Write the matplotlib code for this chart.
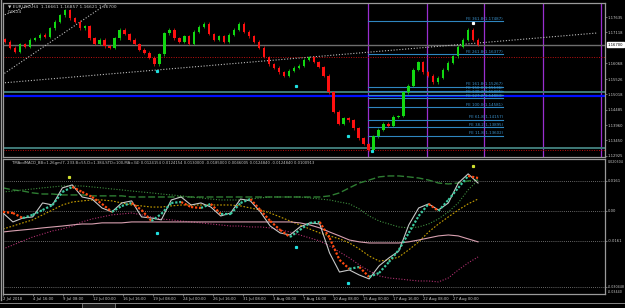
import matplotlib
matplotlib.use("Agg")
import matplotlib.pyplot as plt
import numpy as np

W, H = 625, 308

# ---------------- data ----------------
closes = [1.1679, 1.1659, 1.1645, 1.1672, 1.1662, 1.1686, 1.1692, 1.1703, 1.1696, 1.1726,
          1.1747, 1.1770, 1.1787, 1.1760, 1.1747, 1.1726, 1.1733, 1.1692, 1.1672, 1.1686,
          1.1665, 1.1659, 1.1692, 1.1720, 1.1706, 1.1686, 1.1672, 1.1652, 1.1642, 1.1625,
          1.1604, 1.1638, 1.1709, 1.1720, 1.1692, 1.1679, 1.1699, 1.1672, 1.1713, 1.1730,
          1.1740, 1.1706, 1.1686, 1.1699, 1.1679, 1.1703, 1.1720, 1.1740, 1.1713, 1.1699,
          1.1679, 1.1659, 1.1628, 1.1604, 1.1591, 1.1577, 1.1564, 1.1581, 1.1591, 1.1598,
          1.1618, 1.1628, 1.1611, 1.1594, 1.1564, 1.1509, 1.1442, 1.1401, 1.1421, 1.1414,
          1.1387, 1.1353, 1.1333, 1.1313, 1.1360, 1.1381, 1.1401, 1.1394, 1.1425, 1.1428,
          1.1509, 1.1530, 1.1584, 1.1611, 1.1577, 1.1564, 1.1543, 1.1557, 1.1584, 1.1608,
          1.1631, 1.1662, 1.1686, 1.1720, 1.1686, 1.1670]
first_open = 1.1688

price_ticks = [1.17635, 1.17118, 1.16068, 1.15526, 1.15018, 1.14485, 1.13960, 1.13450, 1.12925]
current_price = 1.16700

time_labels = ["2 Jul 2018", "4 Jul 16:00", "9 Jul 08:00", "12 Jul 00:00", "16 Jul 16:00",
               "19 Jul 08:00", "24 Jul 00:00", "26 Jul 16:00", "31 Jul 08:00", "3 Aug 00:00",
               "7 Aug 16:00", "10 Aug 08:00", "15 Aug 00:00", "17 Aug 16:00", "22 Aug 08:00",
               "27 Aug 00:00"]

fib_names = ["FE 361.8", "FE 261.8", "FE 161.8", "FE 150.0", "FE 138.2", "FE 127.2",
             "FE 100.0", "FE 61.8", "FE 38.2", "FE 11.8"]
fib_prices = [1.17487, 1.16377, 1.15267, 1.15136, 1.15005, 1.14883, 1.14581, 1.14157,
              1.13895, 1.13602]

# horizontal objects on the price chart
hline_gray = [1.16700]
hline_red_dotted = [1.16280, 1.13127]
hline_teal = [1.15093, 1.13195]
hline_blue = [1.14958]

# trendlines: (bar0, price0, bar1, price1)
trendlines = [(-0.5, 1.15399, 316.8, 1.17093),
              (-0.5, 1.15670, 56.0, 1.18110),
              (-0.5, 1.17680, 18.0, 1.18110)]

# vertical purple lines (bar index)
vlines_purple = [194.7, 226.1, 256.5, 288.0, 319.0]

# markers on price chart
price_marks_white = [(250.7, 1.17432)]
price_marks_cyan = [(82.0, 1.15807), (156.3, 1.15298), (184.0, 1.13603), (196.8, 1.13095)]

# indicator series
macd_main = [-0.0011, -0.0059, -0.0038, -0.0032, 0.0043, 0.0032, 0.0124, 0.0140, 0.0075, 0.0064,
             0.0016, -0.0005, 0.0043, 0.0054, -0.0032, -0.0038, -0.0048, 0.0059, 0.0075, 0.0032,
             0.0043, 0.0021, -0.0027, -0.0011, 0.0064, 0.0054, -0.0005, -0.0081, -0.0118, -0.0129,
             -0.0086, -0.0064, -0.0070, -0.0226, -0.0328, -0.0317, -0.0344, -0.0365, -0.0295, -0.0252,
             -0.0215, -0.0075, 0.0016, 0.0038, 0.0005, 0.0043, 0.0150, 0.0199, 0.0150]
macd_signal = [-0.0005, -0.0011, -0.0038, -0.0021, 0.0005, 0.0032, 0.0102, 0.0129, 0.0102, 0.0075,
               0.0038, -0.0005, 0.0027, 0.0043, 0.0005, -0.0054, -0.0016, 0.0043, 0.0048, 0.0021,
               0.0016, 0.0038, -0.0016, -0.0016, 0.0043, 0.0064, 0.0005, -0.0054, -0.0102, -0.0140,
               -0.0102, -0.0064, -0.0059, -0.0145, -0.0263, -0.0311, -0.0301, -0.0354, -0.0333, -0.0274,
               -0.0209, -0.0118, -0.0027, 0.0038, 0.0000, 0.0059, 0.0124, 0.0188, 0.0177]
band_upper = [0.0124, 0.0113, 0.0107, 0.0097, 0.0091, 0.0091, 0.0086, 0.0086, 0.0086, 0.0081,
              0.0081, 0.0081, 0.0081, 0.0075, 0.0075, 0.0075, 0.0075, 0.0075, 0.0075, 0.0075,
              0.0075, 0.0075, 0.0075, 0.0075, 0.0075, 0.0075, 0.0075, 0.0075, 0.0075, 0.0075,
              0.0075, 0.0075, 0.0075, 0.0081, 0.0097, 0.0124, 0.0150, 0.0166, 0.0183, 0.0188,
              0.0188, 0.0183, 0.0177, 0.0166, 0.0150, 0.0145, 0.0150, 0.0161, 0.0166]
band_mid_green = [0.0102, 0.0107, 0.0113, 0.0118, 0.0124, 0.0129, 0.0134, 0.0134, 0.0134, 0.0129,
                  0.0124, 0.0118, 0.0113, 0.0107, 0.0102, 0.0097, 0.0091, 0.0086, 0.0081, 0.0075,
                  0.0070, 0.0064, 0.0059, 0.0059, 0.0059, 0.0064, 0.0070, 0.0075, 0.0075, 0.0075,
                  0.0075, 0.0070, 0.0064, 0.0059, 0.0048, 0.0038, 0.0011, -0.0027, -0.0054, -0.0070,
                  -0.0086, -0.0091, -0.0086, -0.0070, -0.0043, -0.0005, 0.0043, 0.0113, 0.0166]
ma_orange = [-0.0097, -0.0081, -0.0064, -0.0048, -0.0021, 0.0005, 0.0032, 0.0048, 0.0054, 0.0059,
             0.0059, 0.0054, 0.0043, 0.0032, 0.0027, 0.0021, 0.0021, 0.0027, 0.0032, 0.0032,
             0.0032, 0.0032, 0.0032, 0.0032, 0.0027, 0.0016, 0.0005, -0.0011, -0.0032, -0.0054,
             -0.0075, -0.0097, -0.0118, -0.0134, -0.0150, -0.0172, -0.0204, -0.0242, -0.0269, -0.0263,
             -0.0247, -0.0209, -0.0166, -0.0113, -0.0070, -0.0032, 0.0005, 0.0038, 0.0064]
band_lower = [-0.0204, -0.0183, -0.0161, -0.0140, -0.0124, -0.0107, -0.0097, -0.0081, -0.0059, -0.0043,
              -0.0032, -0.0021, -0.0016, -0.0011, -0.0021, -0.0032, -0.0043, -0.0048, -0.0054, -0.0059,
              -0.0064, -0.0070, -0.0075, -0.0081, -0.0081, -0.0086, -0.0086, -0.0091, -0.0102, -0.0113,
              -0.0129, -0.0145, -0.0161, -0.0188, -0.0220, -0.0252, -0.0290, -0.0322, -0.0349, -0.0360,
              -0.0365, -0.0371, -0.0376, -0.0376, -0.0381, -0.0360, -0.0317, -0.0279, -0.0247]
ma_pink = [-0.0113, -0.0107, -0.0102, -0.0097, -0.0091, -0.0086, -0.0081, -0.0075, -0.0070, -0.0070,
           -0.0064, -0.0064, -0.0064, -0.0059, -0.0059, -0.0059, -0.0059, -0.0059, -0.0059, -0.0059,
           -0.0059, -0.0059, -0.0059, -0.0059, -0.0059, -0.0059, -0.0059, -0.0059, -0.0059, -0.0059,
           -0.0064, -0.0075, -0.0091, -0.0113, -0.0134, -0.0156, -0.0166, -0.0172, -0.0172, -0.0172,
           -0.0172, -0.0166, -0.0156, -0.0145, -0.0134, -0.0129, -0.0134, -0.0150, -0.0166]
ind_levels = [0.0161, 0.0, -0.0161, -0.0408]
ind_level_labels = ["0.0161", "0.00", "-0.0161", "-0.030448"]
ind_marks_yellow = [(35.2, 0.0183), (250.7, 0.0242)]
ind_marks_cyan = [(82.0, -0.0118), (156.3, -0.0193), (184.0, -0.0387)]

header_main = "\u25bc EURUSD,H4  1.16661 1.16857 1.16621 1.16700"
header_sub = "0.0124"
header_ind = ("TMAcdMACD_BB=1.26gm(7, 233.B=55.D=1.384,STD=100,MA=34) 0.0124154 0.0124154 "
              "0.0130000 -0.0185000 0.0046005 0.0124840 -0.0124840 0.0100913")

# ---------------- figure ----------------
fig = plt.figure(figsize=(W / 100, H / 100), dpi=100, facecolor='black')


def px_axes(x0, y0, x1, y1):
    return fig.add_axes([x0 / W, 1 - y1 / H, (x1 - x0) / W, (y1 - y0) / H])


XMAX = 321.0
ax = px_axes(3, 3, 605, 157)
ax2 = px_axes(3, 159, 605, 294)
txtc = '#c8c8c8'
fs = 2.7

for a in (ax, ax2):
    a.set_facecolor('black')
    a.set_xlim(0, XMAX)
    for s in a.spines.values():
        s.set_color('#9a9a9a')
        s.set_linewidth(0.9)
    a.tick_params(colors='#9a9a9a', labelcolor=txtc, labelsize=fs, length=1.5, width=0.5, pad=0.6)
    a.yaxis.tick_right()

# main chart
ax.set_ylim(1.1289, 1.1811)
ax.set_xticks([])
ax.set_yticks(price_ticks)
ax.set_yticklabels([f"{p:.5f}" for p in price_ticks])

for v in vlines_purple:
    ax.axvline(v, color='#9a2fd0', lw=0.9, zorder=1)
for p in hline_gray:
    ax.axhline(p, color='#6e6e6e', lw=1.0, zorder=1)
for p in hline_teal:
    ax.axhline(p, color='#3f7a78', lw=1.4, zorder=1)
for p in hline_red_dotted:
    ax.axhline(p, color='#c01010', lw=0.7, ls=(0, (1, 1.5)), zorder=1)
for p in hline_blue:
    ax.axhline(p, color='#0010ff', lw=1.6, zorder=2)

for b0, p0, b1, p1 in trendlines:
    ax.plot([b0, b1], [p0, p1], color='#bdbdbd', lw=0.8, ls=(0, (1, 1.6)), zorder=2)

fib_x0, fib_x1 = 194.7, 266.5
for name, p in zip(fib_names, fib_prices):
    ax.plot([fib_x0, fib_x1], [p, p], color='#2f86c0', lw=0.8, zorder=3)
    ax.text(fib_x1, p + 0.0002, f"{name}({p:.5f})", color='#3b92cc', fontsize=2.9,
            ha='right', va='bottom', zorder=4)

opens = [first_open] + closes[:-1]
pos = np.linspace(1.1, 253.3, len(closes))
for p, o, c in zip(pos, opens, closes):
    col = '#12d812' if c >= o else '#ff1010'
    lo, hi = min(o, c), max(o, c)
    ax.vlines(p, lo - 0.0005, hi + 0.0005, color=col, lw=0.5, zorder=5)
    ax.bar(p, max(hi - lo, 0.00012), bottom=lo, width=1.3, color=col, lw=0, zorder=5)

for b, p in price_marks_white:
    ax.plot(b, p, 's', color='white', ms=1.3, zorder=6)
for b, p in price_marks_cyan:
    ax.plot(b, p, 's', color='#20e0e0', ms=1.3, zorder=6)

ax.annotate(f"{current_price:.5f}", xy=(1.0, (current_price - 1.1289) / (1.1811 - 1.1289)),
            xycoords='axes fraction', xytext=(1.8, 0), textcoords='offset points',
            color='black', fontsize=fs, ha='left', va='center',
            bbox=dict(boxstyle='square,pad=0.15', fc='white', ec='white'), annotation_clip=False)

fig.text(8 / W, 1 - 6 / H, header_main, color=txtc, fontsize=3.2, ha='left', va='center')
fig.text(8 / W, 1 - 12 / H, header_sub, color=txtc, fontsize=3.0, ha='left', va='center')

# indicator
ax2.set_ylim(-0.0446, 0.0279)
ax2.set_yticks(ind_levels)
ax2.set_yticklabels(ind_level_labels)
for lbl in ax2.get_yticklabels():
    if len(lbl.get_text()) > 7:
        lbl.set_fontsize(2.3)
for lv in ind_levels:
    ax2.axhline(lv, color='#8a8a8a', lw=0.6, ls=(0, (1, 1.5)), zorder=1)
ax2.text(1.004, 0.975, "0.020304", transform=ax2.transAxes, color=txtc, fontsize=2.3,
         ha='left', va='center', clip_on=False)
ax2.text(1.004, 0.015, "-0.03440", transform=ax2.transAxes, color=txtc, fontsize=2.3,
         ha='left', va='center', clip_on=False)

ipos = np.linspace(0, 253.3, len(macd_main))
ax2.plot(ipos, band_upper, color='#2e7d32', lw=1.0, ls=(0, (5, 2)), zorder=2)
ax2.plot(ipos, band_mid_green, color='#3f8f3f', lw=0.8, ls=(0, (1, 1.5)), zorder=2)
ax2.plot(ipos, ma_orange, color='#c8a000', lw=0.8, ls=(0, (1.5, 1.5)), zorder=2)
ax2.plot(ipos, band_lower, color='#b03070', lw=0.8, ls=(0, (1, 1.5)), zorder=2)
ax2.plot(ipos, ma_pink, color='#d8a0b0', lw=0.8, zorder=2)
ax2.plot(ipos, macd_main, color='#c8c8c8', lw=0.8, zorder=3)
for k in range(len(macd_signal) - 1):
    col = '#3cc8a0' if macd_signal[k + 1] >= macd_signal[k] else '#ff4a10'
    ax2.plot(ipos[k:k + 2], macd_signal[k:k + 2], color=col, lw=1.6, ls=(0, (1, 0.8)),
             zorder=4, solid_capstyle='butt', dash_capstyle='butt')
for b, v in ind_marks_yellow:
    ax2.plot(b, v, 's', color='#d0e030', ms=1.3, zorder=6)
for b, v in ind_marks_cyan:
    ax2.plot(b, v, 's', color='#20e0e0', ms=1.3, zorder=6)

ax2.text(9 / 602, 1 - 4 / 135, header_ind, transform=ax2.transAxes, color=txtc,
         fontsize=fs, ha='left', va='center')

ax2.set_xticks(np.arange(len(time_labels)) * 16)
ax2.set_xticklabels(time_labels, ha='left')
ax2.tick_params(axis='x', length=1.5, pad=0.8)

# window frame and tabs
fig.add_artist(plt.Line2D([1.5 / W, 1.5 / W], [1 - 300 / H, 1], color='#9a9a9a', lw=1.0))
fig.add_artist(plt.Line2D([0, 1], [1 - 303 / H, 1 - 303 / H], color='#9a9a9a', lw=0.6))
fig.add_artist(plt.Rectangle((82 / W, 0), 33 / W, 5 / H, fc='#1a1a1a', ec='#9a9a9a', lw=0.5))

fig.savefig('out.png', dpi=100, facecolor='black')
